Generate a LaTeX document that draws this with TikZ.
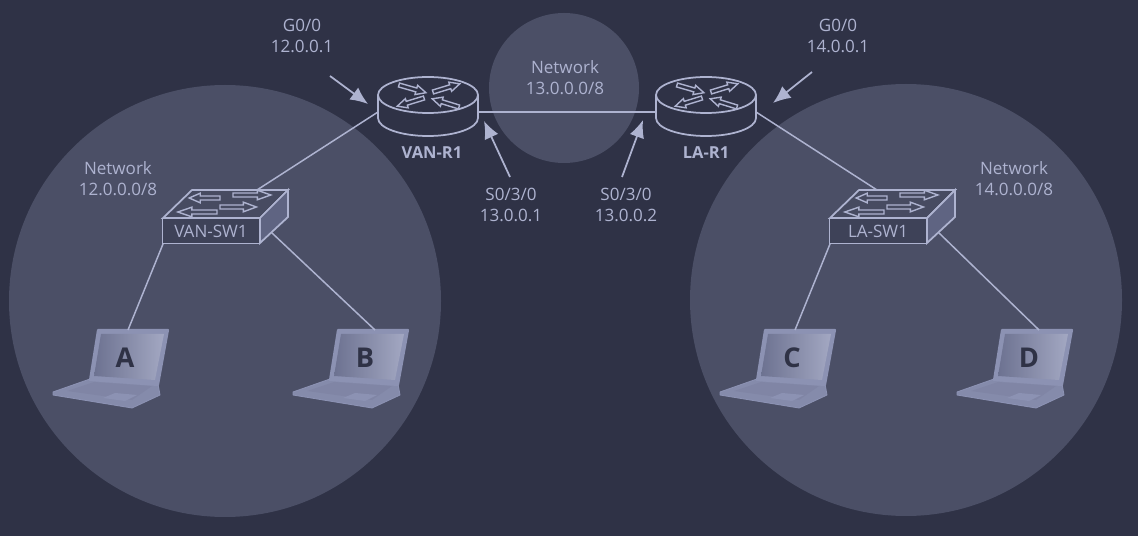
\documentclass[tikz,border=0pt]{standalone}
\usepackage{fontspec}
\setmainfont{Open Sans}
\usetikzlibrary{arrows.meta}
\definecolor{backdrop}{HTML}{2F3246}
\definecolor{zone}{HTML}{4B4F66}
\definecolor{wire}{HTML}{AEB3D0}
\definecolor{device}{HTML}{8C92B3}
\definecolor{panel}{HTML}{5F6482}
\newcommand{\blockarrow}{(0,-2.5) -- (18,-2.5) -- (18,-6) -- (28,0) -- (18,6) -- (18,2.5) -- (0,2.5) -- cycle}
\tikzset{
  link/.style={wire, line width=.85pt},
  pointer/.style={wire, line width=1pt, -{Latex[length=10pt,width=8.5pt]}},
  caption/.style={wire, align=center, font=\fontsize{9.7}{11.8}\selectfont},
  devname/.style={wire, font=\fontsize{9.4}{11}\selectfont\bfseries},
  swname/.style={wire, draw, fill=zone!55!backdrop, line width=1pt, minimum width=1.94cm, minimum height=.5cm, inner sep=0pt, font=\fontsize{9.7}{11}\selectfont},
  router/.pic={
    \filldraw [wire, line width=1pt, fill=backdrop] (-50,0) -- (-50,23) arc [start angle=180, end angle=0, x radius=50, y radius=18] -- (50,0) arc [start angle=0, end angle=-180, x radius=50, y radius=18] -- cycle;
    \draw [wire, line width=1pt] (-50,0) arc [start angle=180, end angle=0, x radius=50, y radius=18];
    \foreach \tx/\ty/\ang in {-29/-10/-16, 5/-3/17, -4/3/197, 31/12/163}
      \draw [wire, line width=.8pt, shift={(\tx,\ty)}, rotate=\ang, yscale=.8] \blockarrow;
    \coordinate (-west) at (-50,17);
    \coordinate (-east) at (50,17);
  },
  switch/.pic={
    \filldraw [wire, line width=1pt, fill=zone!85!backdrop] (-48,-13) -- (-19,-41) -- (77,-41) -- (49,-13) -- cycle;
    \filldraw [wire, line width=1pt, fill=panel] (49,-13) -- (77,-41) -- (77,-14) -- (49,12) -- cycle;
    \foreach \tx/\ty/\sx in {9/-33/-1.1, 22/-36/1.35, 6/-19/-1.4, 9/-24/1.3}
      \draw [wire, line width=.8pt, shift={(\tx,\ty)}, xscale=\sx, yscale=.8] \blockarrow;
    \coordinate (-topright) at (46,-41);
    \coordinate (-topleft) at (-1,-41);
    \coordinate (-rightside) at (61,2);
    \coordinate (-corner) at (-48,13);
  },
  laptop/.pic={
    \filldraw [device, line width=.5pt, line join=round, fill=device!90!zone] (-72,34) -- (-35,21) -- (33,26) -- (35,37) -- (7,50) -- (-72,37) -- cycle;
    \fill [device!72!panel] (-58,33) -- (-31,24) -- (27,28) -- (7,42) -- cycle;
    \fill [device] (-22,40) -- (-10,35) -- (12,37) -- (0,43) -- cycle;
    \filldraw [device, line width=1.2pt, line join=round, fill=device] (-27,-28) -- (43,-28) -- (33,27) -- (-35,22) -- cycle;
    \shade [left color=panel!70!device, right color=device!80!white] (-24,-24) -- (39,-24) -- (30,22) -- (-31,18) -- cycle;
    \node [text=backdrop, font=\fontsize{15.5}{17}\selectfont\bfseries] at (0,0) {#1};
    \coordinate (-topleft) at (3,-28);
    \coordinate (-topright) at (10,-28);
  }
}
\begin{document}
\begin{tikzpicture}[x=.02cm, y=-.02cm]
  \fill [backdrop] (0,0) rectangle (1138,536);
  \fill [zone] (225,301) circle [radius=216];
  \fill [zone] (906,300) circle [radius=216];
  \fill [zone] (564,88) circle [radius=75];

  % devices
  \pic (vanr1) at (428,95) {router};
  \pic (lar1) at (706,95) {router};
  \pic (vansw1) at (211,231) {switch};
  \pic (lasw1) at (878,231) {switch};
  \pic (laptopa) at (125,358) {laptop=A};
  \pic (laptopb) at (365,358) {laptop=B};
  \pic (laptopc) at (792,358) {laptop=C};
  \pic (laptopd) at (1029,358) {laptop=D};

  \node [devname] (vanr1name) at (432,153) {VAN-R1};
  \node [devname] (lar1name) at (706,153) {LA-R1};
  \node [swname] (vansw1name) at (211,231) {VAN-SW1};
  \node [swname] (lasw1name) at (878,231) {LA-SW1};

  % links
  \draw [link] (vanr1-west) -- (vansw1-topright);
  \draw [link] (lar1-east) -- (lasw1-topleft);
  \draw [link] (vanr1-east) -- (lar1-west);
  \draw [link] (vansw1-corner) -- (laptopa-topleft);
  \draw [link] (vansw1-rightside) -- (laptopb-topright);
  \draw [link] (lasw1-corner) -- (laptopc-topleft);
  \draw [link] (lasw1-rightside) -- (laptopd-topright);

  % captions
  \node [caption] (netvan) at (118,179) {Network\\12.0.0.0/8};
  \node [caption] (netmid) at (565,78) {Network\\13.0.0.0/8};
  \node [caption] (netla) at (1014,179) {Network\\14.0.0.0/8};
  \node [caption] (gvan) at (302,36) {G0/0\\12.0.0.1};
  \node [caption] (gla) at (838,36) {G0/0\\14.0.0.1};
  \node [caption] (svan) at (511,205) {S0/3/0\\13.0.0.1};
  \node [caption] (sla) at (626,205) {S0/3/0\\13.0.0.2};

  % pointers
  \coordinate (gvantail) at (330,76);
  \coordinate (gvantip) at (368,104);
  \coordinate (glatail) at (812,72);
  \coordinate (glatip) at (773,103);
  \coordinate (svantail) at (510,177);
  \coordinate (svantip) at (484,121);
  \coordinate (slatail) at (622,177);
  \coordinate (slatip) at (643,120);
  \draw [pointer] (gvantail) -- (gvantip);
  \draw [pointer] (glatail) -- (glatip);
  \draw [pointer] (svantail) -- (svantip);
  \draw [pointer] (slatail) -- (slatip);
\end{tikzpicture}
\end{document}
